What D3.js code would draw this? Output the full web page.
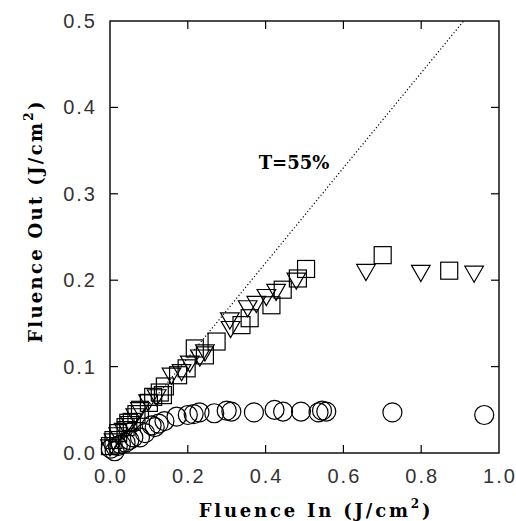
<!DOCTYPE html>
<html>
<head>
<meta charset="utf-8">
<script src="https://cdn.jsdelivr.net/npm/d3@7"></script>
<style>
  html, body { margin: 0; padding: 0; background: #fff; }
  svg { display: block; }
</style>
</head>
<body>
<svg id="chart" width="516" height="521"></svg>
<script>
// ---- data ----
const circleX = [0.002,0.012,0.02,0.028,0.04,0.05,0.06,0.077,0.09,0.107,0.115,0.125,0.14,0.171,0.2,0.215,0.23,0.268,0.3,0.312,0.37,0.423,0.445,0.491,0.536,0.545,0.556,0.726,0.962];
const circleY = [0.005,0.002,0.008,0.01,0.012,0.015,0.018,0.018,0.023,0.032,0.03,0.034,0.037,0.042,0.044,0.045,0.047,0.046,0.049,0.048,0.047,0.05,0.048,0.048,0.047,0.049,0.048,0.047,0.044];

const squareX = [0.0,0.009,0.021,0.04,0.047,0.056,0.068,0.077,0.1,0.111,0.128,0.136,0.141,0.175,0.197,0.218,0.244,0.274,0.338,0.359,0.415,0.444,0.483,0.504,0.701,0.872];
const squareY = [0.008,0.015,0.023,0.03,0.035,0.036,0.045,0.05,0.058,0.065,0.07,0.067,0.077,0.09,0.098,0.121,0.113,0.129,0.148,0.156,0.171,0.189,0.202,0.213,0.229,0.211];

const triX = [0.0,0.009,0.021,0.035,0.043,0.051,0.065,0.077,0.098,0.12,0.158,0.184,0.205,0.231,0.244,0.308,0.31,0.354,0.376,0.402,0.427,0.479,0.658,0.799,0.936];
const triY = [0.009,0.016,0.023,0.028,0.03,0.036,0.045,0.052,0.061,0.067,0.092,0.096,0.106,0.113,0.119,0.156,0.146,0.170,0.175,0.183,0.189,0.202,0.212,0.211,0.210];

const transmission = 0.55;
const lineLabel = "T=55%";
const xTicks = [0.0,0.2,0.4,0.6,0.8,1.0];
const yTicks = [0.0,0.1,0.2,0.3,0.4,0.5];

// ---- layout ----
const svg = d3.select("#chart");
const L = 110, R = 499, T = 21, B = 453;
const x = d3.scaleLinear().domain([0,1]).range([L,R]);
const y = d3.scaleLinear().domain([0,0.5]).range([B,T]);

const serif = "'DejaVu Serif', serif";
const sans = "'Liberation Sans', Arial, sans-serif";

// frame
svg.append("rect").attr("x",L).attr("y",T).attr("width",R-L).attr("height",B-T)
  .attr("fill","none").attr("stroke","#000").attr("stroke-width",1.4);

const tl = 8;
const g = svg.append("g").attr("stroke","#000").attr("stroke-width",1.2);
xTicks.slice(1,-1).forEach(v => {
  g.append("line").attr("x1",x(v)).attr("x2",x(v)).attr("y1",B).attr("y2",B-tl);
  g.append("line").attr("x1",x(v)).attr("x2",x(v)).attr("y1",T).attr("y2",T+tl);
});
yTicks.slice(1,-1).forEach(v => {
  g.append("line").attr("y1",y(v)).attr("y2",y(v)).attr("x1",L).attr("x2",L+tl);
  g.append("line").attr("y1",y(v)).attr("y2",y(v)).attr("x1",R).attr("x2",R-tl);
});

// tick labels
svg.append("g").selectAll("text").data(xTicks).join("text")
  .attr("x", d => x(d)+1).attr("y", B + 30)
  .attr("text-anchor","middle").attr("font-family",sans).attr("font-size",20)
  .attr("letter-spacing",2).attr("fill","#333")
  .text(d => d.toFixed(1));
svg.append("g").selectAll("text").data(yTicks).join("text")
  .attr("x", L - 13).attr("y", d => y(d) + 7)
  .attr("text-anchor","end").attr("font-family",sans).attr("font-size",20)
  .attr("letter-spacing",2).attr("fill","#333")
  .text(d => d.toFixed(1));

// dotted T line
const xEnd = 0.5 / transmission;
svg.append("line")
  .attr("x1",x(0)).attr("y1",y(0)).attr("x2",x(xEnd)).attr("y2",y(transmission*xEnd))
  .attr("stroke","#000").attr("stroke-width",1.2).attr("stroke-dasharray","1.2,2.3");

svg.append("text").attr("x",x(0.473)).attr("y",y(0.3285))
  .attr("text-anchor","middle").attr("font-family",serif).attr("font-weight","bold")
  .attr("font-size",18).text(lineLabel);

// markers
const mk = svg.append("g").attr("fill","none").attr("stroke","#000").attr("stroke-width",1.2);
const circData = circleX.map((v,i)=>[v,circleY[i]]);
const sqData = squareX.map((v,i)=>[v,squareY[i]]);
const triData = triX.map((v,i)=>[v,triY[i]]);

mk.selectAll("circle").data(circData).join("circle")
  .attr("cx", d=>x(d[0])).attr("cy", d=>y(d[1])).attr("r", 9.5);

const sq = 17;
mk.selectAll("rect.sq").data(sqData).join("rect").attr("class","sq")
  .attr("x", d=>x(d[0])-sq/2).attr("y", d=>y(d[1])-sq/2).attr("width",sq).attr("height",sq);

const triSym = d3.symbol().type(d3.symbolTriangle).size(150);
mk.selectAll("path.tri").data(triData).join("path").attr("class","tri")
  .attr("d", triSym)
  .attr("transform", d=>`translate(${x(d[0])},${y(d[1])}) rotate(180)`);

// axis titles
const xt = svg.append("text").attr("x", 316).attr("y", 517)
  .attr("text-anchor","middle").attr("font-family",serif).attr("font-weight","bold")
  .attr("font-size",18).attr("letter-spacing",2.8);
xt.append("tspan").text("Fluence In (J/cm");
xt.append("tspan").attr("dy",-9).attr("font-size",12).text("2");
xt.append("tspan").attr("dy",9).text(")");

const yt = svg.append("text").attr("transform","translate(42,221) rotate(-90)")
  .attr("text-anchor","middle").attr("font-family",serif).attr("font-weight","bold")
  .attr("font-size",18).attr("letter-spacing",2.3);
yt.append("tspan").text("Fluence Out (J/cm");
yt.append("tspan").attr("dy",-9).attr("font-size",12).text("2");
yt.append("tspan").attr("dy",9).text(")");
</script>
</body>
</html>
